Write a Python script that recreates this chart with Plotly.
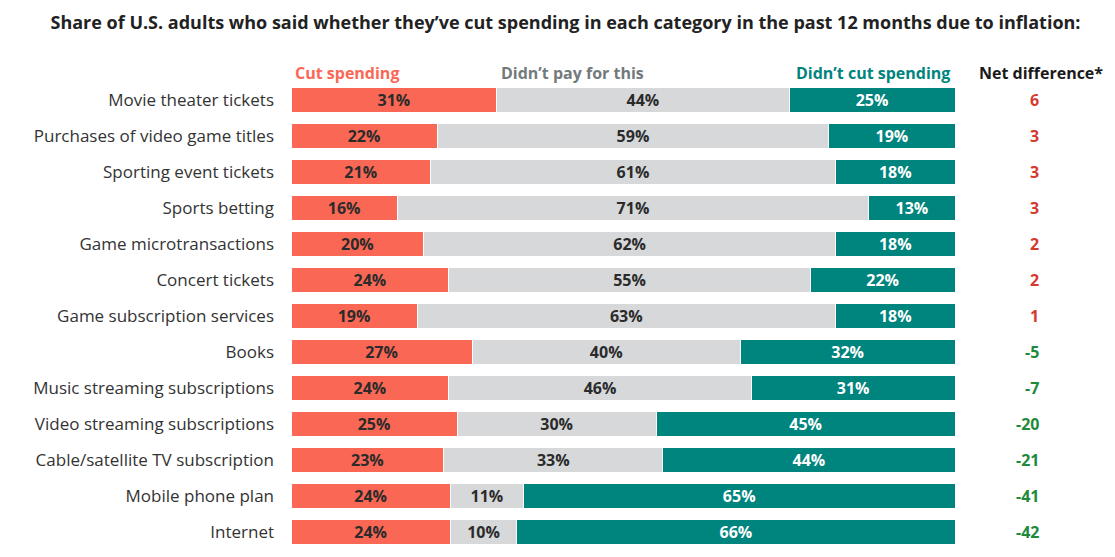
import plotly.graph_objects as go

categories = [
    "Movie theater tickets",
    "Purchases of video game titles",
    "Sporting event tickets",
    "Sports betting",
    "Game microtransactions",
    "Concert tickets",
    "Game subscription services",
    "Books",
    "Music streaming subscriptions",
    "Video streaming subscriptions",
    "Cable/satellite TV subscription",
    "Mobile phone plan",
    "Internet",
]
cut_spending = [31, 22, 21, 16, 20, 24, 19, 27, 24, 25, 23, 24, 24]
didnt_pay = [44, 59, 61, 71, 62, 55, 63, 40, 46, 30, 33, 11, 10]
didnt_cut = [25, 19, 18, 13, 18, 22, 18, 32, 31, 45, 44, 65, 66]
net_difference = [6, 3, 3, 3, 2, 2, 1, -5, -7, -20, -21, -41, -42]

RED = "#FA6855"
GRAY = "#D6D8D9"
TEAL = "#00847E"
FONT = "Open Sans"

fig = go.Figure()
series = [
    ("Cut spending", cut_spending, RED, "#2b2b2b"),
    ("Didn't pay for this", didnt_pay, GRAY, "#2b2b2b"),
    ("Didn't cut spending", didnt_cut, TEAL, "white"),
]
for name, vals, col, tcol in series:
    fig.add_trace(go.Bar(
        y=categories, x=vals, name=name, orientation="h",
        marker=dict(color=col, line=dict(color="white", width=1)),
        text=[f"{v}%" for v in vals], textposition="inside",
        insidetextanchor="middle", constraintext="none",
        textfont=dict(family=FONT, size=16, color=tcol, weight="bold"),
        hoverinfo="skip",
    ))

# net difference column (paper coords, plot is 664px wide)
NET_X = 1 + 86 / 664
for cat, nd in zip(categories, net_difference):
    fig.add_annotation(
        x=NET_X, y=cat, xref="paper", yref="y", text=f"<b>{nd}</b>", showarrow=False,
        font=dict(family=FONT, size=16, color="#D63A2F" if nd > 0 else "#1E8A3A"),
    )

# column headers
headers = [
    ("Cut spending", 0.003, "left", RED),
    ("Didn\u2019t pay for this", 0.313, "left", "#737A7B"),
    ("Didn\u2019t cut spending", 0.996, "right", TEAL),
    ("Net difference*", NET_X, "center", "#1a1a1a"),
]
for txt, xv, anchor, col in headers:
    fig.add_annotation(
        x=xv, y=1.0, xref="paper", yref="paper", yanchor="bottom", xanchor=anchor,
        text=f"<b>{txt}</b>", showarrow=False, yshift=-4,
        font=dict(family=FONT, size=16, color=col),
    )

fig.update_layout(
    title=dict(
        text="<b>Share of U.S. adults who said whether they\u2019ve cut spending in each category in the past 12 months due to inflation:</b>",
        x=0.5, xanchor="center", y=0.973, yanchor="middle",
        font=dict(family=FONT, size=18, color="#222"),
    ),
    barmode="stack", barnorm="percent", bargap=0.33,
    width=1115, height=557,
    margin=dict(l=283, r=168, t=74, b=15),
    paper_bgcolor="white", plot_bgcolor="white",
    showlegend=False,
    xaxis=dict(range=[0, 100], visible=False, fixedrange=True),
    yaxis=dict(
        autorange="reversed", showgrid=False, zeroline=False, showline=False,
        ticks="", ticklabelstandoff=16,
        tickfont=dict(family=FONT, size=17, color="#333"),
    ),
)

fig.write_html("out.html")
